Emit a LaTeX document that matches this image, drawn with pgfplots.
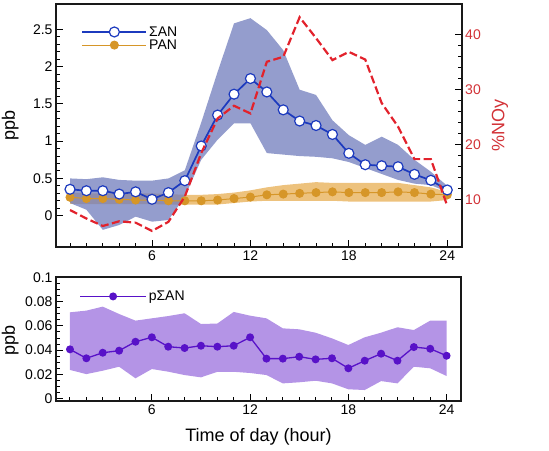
\documentclass[border=0pt]{standalone}
\usepackage{fontspec}
\setmainfont{Liberation Sans}
\usepackage{pgfplots}
\pgfplotsset{compat=1.18}
\usepackage{pgfplotstable}
\usepgfplotslibrary{fillbetween}

\definecolor{sanline}{RGB}{28,58,190}
\definecolor{sanband}{RGB}{112,124,188}
\definecolor{panline}{RGB}{214,150,40}
\definecolor{panband}{RGB}{230,168,70}
\definecolor{noyred}{RGB}{226,34,44}
\definecolor{axred}{RGB}{210,50,55}
\definecolor{pline}{RGB}{88,18,200}
\definecolor{pband}{RGB}{180,148,230}

\pgfplotstableread{
h   san    su     sl      pan   pu    pl    noy
1   0.354  0.50   0.17    0.247 0.31  0.160 8.05
2   0.335  0.49   0.08    0.230 0.30  0.155 6.5
3   0.335  0.515  -0.19   0.230 0.30  0.155 5.15
4   0.290  0.48   -0.125  0.220 0.30  0.155 6.0
5   0.320  0.47   -0.013  0.210 0.30  0.155 5.75
6   0.220  0.47   -0.08   0.210 0.30  0.155 4.24
7   0.310  0.50   -0.058  0.200 0.29  0.150 5.9
8   0.470  0.61   0.255   0.200 0.28  0.150 10.5
9   0.935  1.25   0.75    0.200 0.28  0.150 18.4
10  1.350  1.93   1.02    0.210 0.29  0.150 24.7
11  1.630  2.58   1.24    0.230 0.31  0.170 27.0
12  1.840  2.65   1.24    0.250 0.34  0.190 25.6
13  1.660  2.49   0.84    0.280 0.38  0.200 35.0
14  1.420  2.22   0.82    0.290 0.41  0.200 35.9
15  1.270  1.69   0.80    0.300 0.43  0.200 43.1
16  1.210  1.62   0.79    0.310 0.45  0.200 39.3
17  1.090  1.28   0.77    0.320 0.44  0.200 35.3
18  0.837  1.08   0.72    0.310 0.44  0.190 36.8
19  0.684  0.95   0.64    0.310 0.44  0.190 35.4
20  0.670  1.06   0.56    0.310 0.44  0.190 27.5
21  0.657  0.95   0.48    0.320 0.44  0.190 23.2
22  0.555  0.75   0.43    0.310 0.41  0.190 17.3
23  0.475  0.59   0.41    0.290 0.38  0.190 17.3
24  0.345  0.40   0.32    0.280 0.32  0.210 8.8
}\toptab

\pgfplotstableread{
h   p       pu      pl
1   0.0406  0.0713  0.0235
2   0.0332  0.0727  0.0201
3   0.0378  0.0760  0.0229
4   0.0395  0.0699  0.0262
5   0.0469  0.0644  0.0166
6   0.0506  0.0663  0.0243
7   0.0428  0.0682  0.0221
8   0.0417  0.0705  0.0193
9   0.0436  0.0616  0.0174
10  0.0428  0.0620  0.0220
11  0.0436  0.0716  0.0220
12  0.0506  0.0685  0.0210
13  0.0329  0.0663  0.0193
14  0.0329  0.0580  0.0124
15  0.0345  0.0572  0.0133
16  0.0323  0.0544  0.0146
17  0.0332  0.0497  0.0124
18  0.0249  0.0442  0.0075
19  0.0312  0.0506  0.0069
20  0.0370  0.0544  0.0143
21  0.0312  0.0589  0.0124
22  0.0425  0.0566  0.0262
23  0.0411  0.0644  0.0249
24  0.0353  0.0644  0.0185
}\bottab

\pgfplotsset{
  base/.style={
    scale only axis,
    xmin=0.146, xmax=24.88,
    tick align=inside,
    major tick length=7pt, minor tick length=4pt,
    every tick/.style={black, line width=1pt},
    axis line style={line width=1.6pt, black!90},
    tick label style={font=\fontsize{14}{16}\selectfont},
    label style={font=\fontsize{18}{20}\selectfont},
    /pgf/number format/assume math mode=true,
  },
}

\begin{document}
\begin{tikzpicture}
% ---------- top panel ----------
\begin{axis}[base,
  at={(56pt,-4pt)}, anchor=north west,
  width=405.7pt, height=242.7pt,
  ymin=-0.416, ymax=2.84,
  xtick={6,12,18,24}, minor xtick={1,...,24},
  xtick pos=left, ytick pos=left,
  ytick={0,0.5,1,1.5,2,2.5}, minor y tick num=4,
  ylabel={ppb},
  ylabel style={at={(axis description cs:-0.113,0.5)}, anchor=center},
  legend style={at={(axis description cs:0.055,0.925)}, anchor=north west,
    draw=none, fill=none, font=\fontsize{14}{16}\selectfont,
    row sep=-2pt, /tikz/every even column/.append style={column sep=4pt}},
  legend cell align=left,
  reverse legend,
  legend image code/.code={\draw[mark repeat=2,mark phase=2] plot coordinates {(0pt,0pt) (32pt,0pt) (64pt,0pt)};},
]
\addplot[name path=pU, draw=none, forget plot] table[x=h,y=pu]{\toptab};
\addplot[name path=pL, draw=none, forget plot] table[x=h,y=pl]{\toptab};
\addplot[panband, fill opacity=0.7, forget plot] fill between[of=pU and pL];
\addplot[name path=sU, draw=none, forget plot] table[x=h,y=su]{\toptab};
\addplot[name path=sL, draw=none, forget plot] table[x=h,y=sl]{\toptab};
\addplot[sanband, fill opacity=0.75, forget plot] fill between[of=sU and sL];
\addplot[panline, line width=1pt, mark=*, mark size=4pt,
  mark options={fill=panline, draw=panline}] table[x=h,y=pan]{\toptab};
\addlegendentry{PAN}
\addplot[sanline, line width=1.7pt, mark=*, mark size=5pt,
  mark options={fill=white, draw=sanline, line width=1.2pt}] table[x=h,y=san]{\toptab};
\addlegendentry{ΣAN}
\end{axis}
\begin{axis}[base,
  at={(56pt,-4pt)}, anchor=north west,
  width=405.7pt, height=242.7pt,
  axis x line=none, axis y line*=right,
  ymin=1.38, ymax=45.5,
  ytick={10,20,30,40}, minor y tick num=4,
  yticklabel style={axred},
  ylabel={\%NOy}, ylabel style={axred, at={(axis description cs:1.094,0.5)}, anchor=center},
]
\addplot[noyred, line width=2.2pt, dash pattern=on 8pt off 3.5pt] table[x=h,y=noy]{\toptab};
\end{axis}
% ---------- bottom panel ----------
\begin{axis}[base,
  at={(56pt,-276.7pt)}, anchor=north west,
  width=405pt, height=124.3pt,
  ymin=-0.0022, ymax=0.1008,
  xtick={6,12,18,24}, minor xtick={1,...,24},
  xtick pos=left, ytick pos=left,
  ytick={0,0.02,0.04,0.06,0.08,0.1}, minor y tick num=3,
  scaled y ticks=false,
  yticklabel style={/pgf/number format/fixed, /pgf/number format/precision=2},
  ylabel={ppb},
  ylabel style={at={(axis description cs:-0.113,0.49)}, anchor=center},
  xlabel={Time of day (hour)},
  xlabel style={at={(axis description cs:0.5,-0.287)}, anchor=center},
  legend style={at={(axis description cs:0.05,0.92)}, anchor=north west,
    draw=none, fill=none, font=\fontsize{14}{16}\selectfont,
    /tikz/every even column/.append style={column sep=2pt}},
  legend cell align=left,
  legend image code/.code={\draw[mark repeat=2,mark phase=2] plot coordinates {(0pt,0pt) (33pt,0pt) (66pt,0pt)};},
]
\addplot[name path=bU, draw=none, forget plot] table[x=h,y=pu]{\bottab};
\addplot[name path=bL, draw=none, forget plot] table[x=h,y=pl]{\bottab};
\addplot[pband, forget plot] fill between[of=bU and bL];
\addplot[pline, line width=1.3pt, mark=*, mark size=3.3pt,
  mark options={fill=pline, draw=pline}] table[x=h,y=p]{\bottab};
\addlegendentry{pΣAN}
\end{axis}
\pgfresetboundingbox
\path[use as bounding box] (0,0) rectangle (549pt,-450pt);
\end{tikzpicture}
\end{document}
